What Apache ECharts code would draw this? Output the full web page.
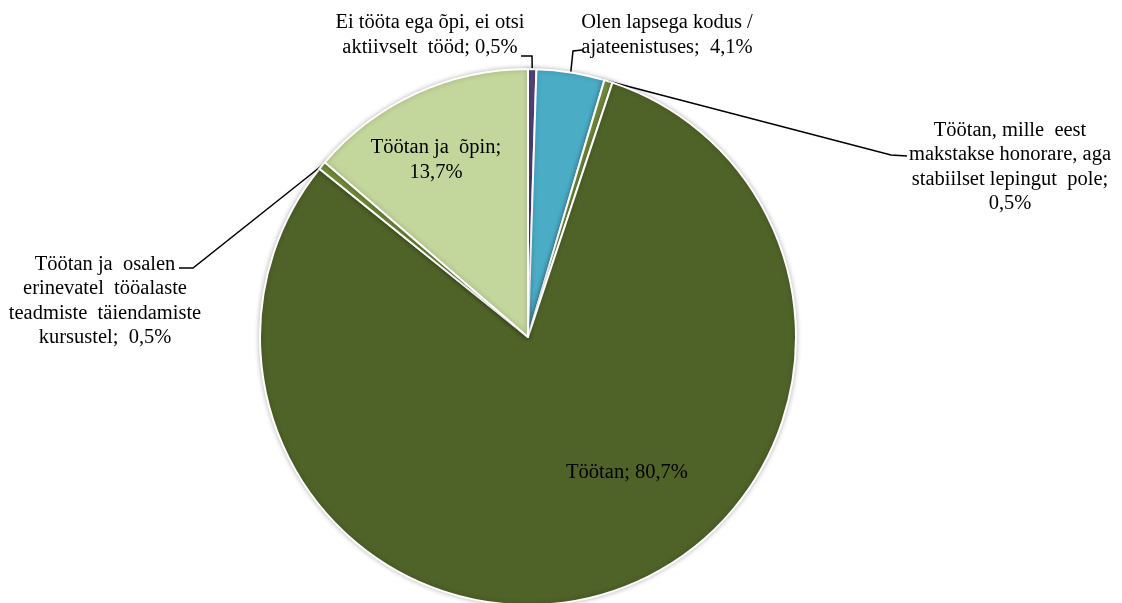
<!DOCTYPE html>
<html>
<head>
<meta charset="utf-8">
<script src="https://cdn.jsdelivr.net/npm/echarts@6/dist/echarts.min.js"></script>
<style>
  html, body { margin: 0; padding: 0; background: #fff; }
  #chart { width: 1122px; height: 603px; }
</style>
</head>
<body>
<div id="chart"></div>
<script>
/**
 * Chart data (clockwise from the top)
 */
let categories = [
    'Ei tööta ega õpi, ei otsi\naktiivselt  tööd',
    'Olen lapsega kodus /\najateenistuses',
    'Töötan, mille  eest\nmakstakse honorare, aga\nstabiilset lepingut  pole',
    'Töötan',
    'Töötan ja  osalen\nerinevatel  tööalaste\nteadmiste  täiendamiste\nkursustel',
    'Töötan ja  õpin'
];
let shares = [0.5, 4.1, 0.5, 80.7, 0.5, 13.7];
let labelSeparators = ['; ', ';  ', ';\n', '; ', ';  ', ';\n'];

/**
 * Styling / label placement (pixels)
 */
let sliceColors = ['#604a87', '#4bacc6', '#77933c', '#4f6228', '#77933c', '#c3d69b'];
let labelSpots = [
    {x: 430, y: 35, line: [[532, 56], [521, 56]]},
    {x: 667, y: 35, line: [[573, 51], [582, 50]]},
    {x: 1010, y: 167, line: [[891, 155], [907, 156]]},
    {x: 627, y: 473, line: null},
    {x: 105, y: 301, line: [[193, 268], [179, 268]]},
    {x: 436, y: 160, line: null}
];

function formatShare(v) {
    return v.toFixed(1).replace('.', ',') + '%';
}

let chart = echarts.init(document.getElementById('chart'));

let option = {
    backgroundColor: '#fff',
    animation: false,
    series: [{
        type: 'pie',
        center: [528, 337],
        radius: 268,
        startAngle: 90,
        clockwise: true,
        avoidLabelOverlap: false,
        itemStyle: {
            borderColor: '#fff',
            borderWidth: 2,
            shadowBlur: 5,
            shadowColor: 'rgba(0,0,0,0.25)'
        },
        label: {
            show: true,
            position: 'outside',
            fontFamily: 'Liberation Serif',
            fontSize: 20.5,
            lineHeight: 24.5,
            color: '#000',
            formatter: function (p) {
                return p.name + labelSeparators[p.dataIndex] + formatShare(p.value);
            }
        },
        labelLine: {
            show: true,
            lineStyle: {color: '#000', width: 1.5}
        },
        labelLayout: function (params) {
            let spot = labelSpots[params.dataIndex];
            let res = {x: spot.x, y: spot.y, align: 'center', verticalAlign: 'middle'};
            if (spot.line && params.labelLinePoints) {
                res.labelLinePoints = [params.labelLinePoints[0], spot.line[0], spot.line[1]];
            }
            return res;
        },
        data: categories.map(function (name, i) {
            let item = {name: name, value: shares[i], itemStyle: {color: sliceColors[i]}};
            if (!labelSpots[i].line) {
                item.labelLine = {show: false};
            }
            return item;
        })
    }]
};

chart.setOption(option);
</script>
</body>
</html>
